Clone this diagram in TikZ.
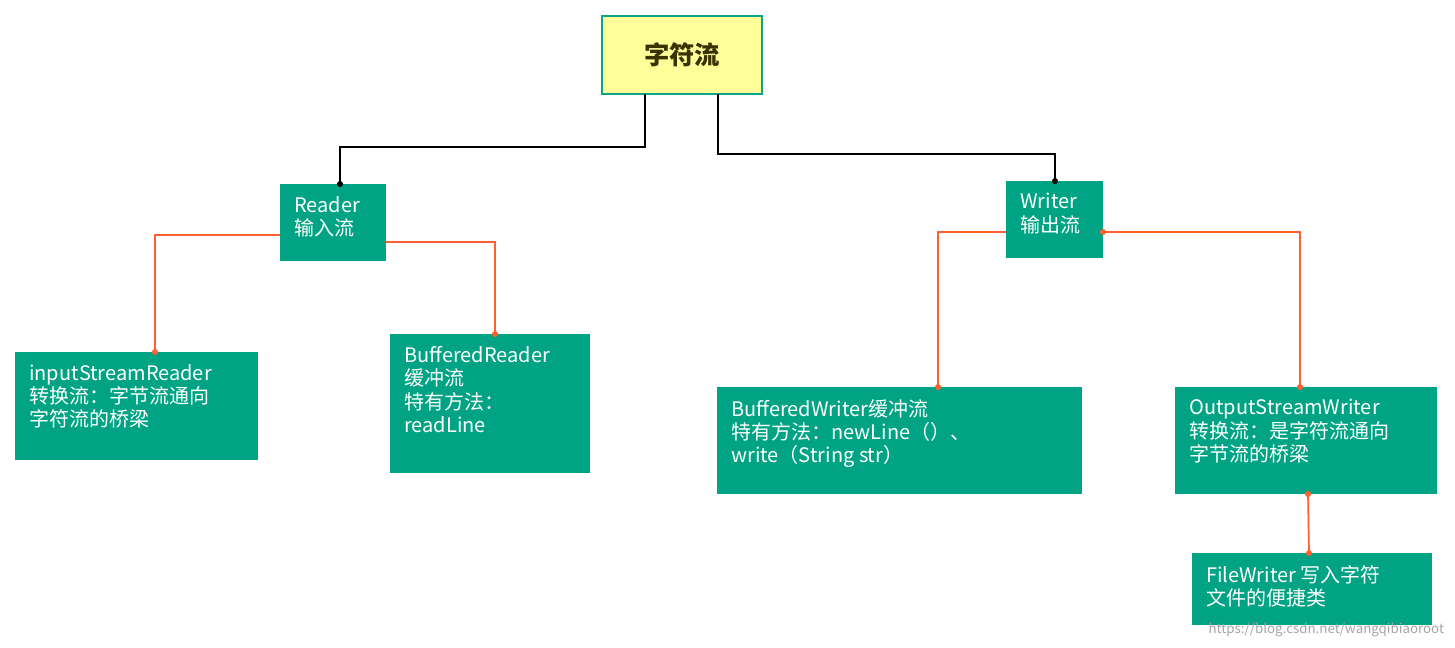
\documentclass[tikz,border=0pt]{standalone}
\usepackage{fontspec}
\setmainfont{Noto Sans CJK SC}
\begin{document}
\begin{tikzpicture}[x=0.75pt,y=-0.75pt,
  box/.style={fill={rgb,255:red,0;green,163;blue,132},draw=none,text=white,anchor=north west,inner sep=0pt},
  t/.style={anchor=north west,text=white,font=\fontsize{15}{17.5}\selectfont,align=left,inner sep=0pt},
  bl/.style={line width=1.5pt,black},
  or/.style={line width=1.3pt,draw={rgb,255:red,255;green,95;blue,50}},
  dotb/.style={circle,fill=black,inner sep=1.6pt},
  doto/.style={circle,fill={rgb,255:red,255;green,95;blue,50},inner sep=1.6pt}]
\useasboundingbox (0,0) rectangle (1455,648);
\fill[white] (0,0) rectangle (1455,648);
% boxes
\node[draw={rgb,255:red,10;green,165;blue,138},line width=2.2pt,fill={rgb,255:red,255;green,255;blue,153},minimum width=160*0.75pt,minimum height=78*0.75pt,inner sep=0pt,font=\fontsize{19}{22}\selectfont\bfseries,text={rgb,255:red,60;green,50;blue,0}] (top) at (682,55) {字符流};
\fill[box] (280,184) rectangle (386,261);
\node[t] (reader) at (294,196) {Reader\\输入流};
\fill[box] (15,352) rectangle (258,460);
\node[t] (isr) at (29,364) {inputStreamReader\\转换流：字节流通向\\字符流的桥梁};
\fill[box] (390,334) rectangle (590,473);
\node[t] (br) at (404,346) {BufferedReader\\缓冲流\\特有方法：\\readLine};
\fill[box] (1006,181) rectangle (1103,258);
\node[t] (writer) at (1020,193) {Writer\\输出流};
\fill[box] (717,387) rectangle (1082,494);
\node[t] (bw) at (731,399) {BufferedWriter缓冲流\\特有方法：newLine（）、\\write（String str）};
\fill[box] (1175,387) rectangle (1437,494);
\node[t] (osw) at (1189,399) {OutputStreamWriter\\转换流：是字符流通向\\字节流的桥梁};
\fill[box] (1192,553) rectangle (1432,625);
\node[t] (fw) at (1206,565) {FileWriter 写入字符\\文件的便捷类};
\node[anchor=south east,text=gray!70,font=\fontsize{10}{12}\selectfont,inner sep=2pt] (wm) at (1447,640) {https://blog.csdn.net/wangqibiaoroot};
% black connectors
\coordinate (a1) at (340,184); \coordinate (a2) at (1055,181);
\draw[bl] (645,94) -- (645,147) -- (340,147) -- (a1);
\node[dotb] at (a1) {};
\draw[bl] (718,94) -- (718,154) -- (1055,154) -- (a2);
\node[dotb] at (a2) {};
% orange
\draw[or] (280,235) -- (155,235) -- (155,352); \node[doto] at (155,352) {};
\draw[or] (386,242) -- (495,242) -- (495,334); \node[doto] at (495,334) {};
\draw[or] (1006,232) -- (938,232) -- (938,387); \node[doto] at (938,387) {};
\draw[or] (1103,232) -- (1300,232) -- (1300,387); \node[doto] at (1103,232) {}; \node[doto] at (1300,387) {};
\draw[or] (1308,494) -- (1309,553); \node[doto] at (1308,494) {}; \node[doto] at (1309,553) {};
\end{tikzpicture}
\end{document}
